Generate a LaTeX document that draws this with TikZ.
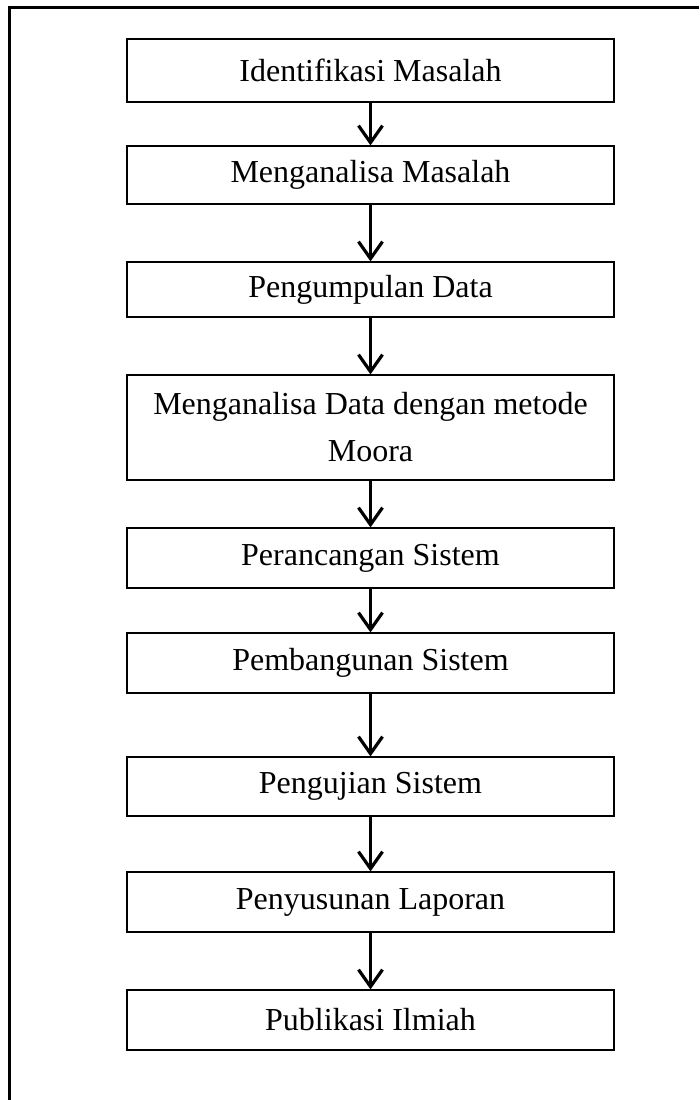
\documentclass[tikz,border=0pt]{standalone}
\usepackage{fontspec}
\setmainfont{Liberation Serif}
\usetikzlibrary{arrows.meta}
\tikzset{
  langkah/.style={draw, line width=1.2pt, inner sep=0pt, minimum width=487pt,
    align=center, font=\fontsize{32pt}{47pt}\selectfont},
  panah/.style={line width=3.2pt, -{Straight Barb[length=17pt,width=24pt,line width=3.2pt]}}
}
\begin{document}
\begin{tikzpicture}[x=1pt,y=-1pt]
    \useasboundingbox (0,0) rectangle (699,1100);
    \draw[line width=3pt] (9,1100) -- (9,7) -- (699,7);
    \node[langkah, minimum height=63pt] (ident) at (370.5,70.5) {Identifikasi Masalah};
    \node[langkah, minimum height=58pt] (analisa) at (370.5,175) {Menganalisa Masalah};
    \node[langkah, minimum height=55pt] (kumpul) at (370.5,289.5) {Pengumpulan Data};
    \node[langkah, minimum height=105pt] (moora) at (370.5,427.5) {Menganalisa Data dengan metode\\Moora};
    \node[langkah, minimum height=60pt] (rancang) at (370.5,558) {Perancangan Sistem};
    \node[langkah, minimum height=60pt] (bangun) at (370.5,663) {Pembangunan Sistem};
    \node[langkah, minimum height=59pt] (uji) at (370.5,786.5) {Pengujian Sistem};
    \node[langkah, minimum height=60pt] (lapor) at (370.5,902) {Penyusunan Laporan};
    \node[langkah, minimum height=60pt] (publik) at (370.5,1020) {Publikasi Ilmiah};
    \draw[panah] (ident) -- (analisa);
    \draw[panah] (analisa) -- (kumpul);
    \draw[panah] (kumpul) -- (moora);
    \draw[panah] (moora) -- (rancang);
    \draw[panah] (rancang) -- (bangun);
    \draw[panah] (bangun) -- (uji);
    \draw[panah] (uji) -- (lapor);
    \draw[panah] (lapor) -- (publik);
\end{tikzpicture}
\end{document}
